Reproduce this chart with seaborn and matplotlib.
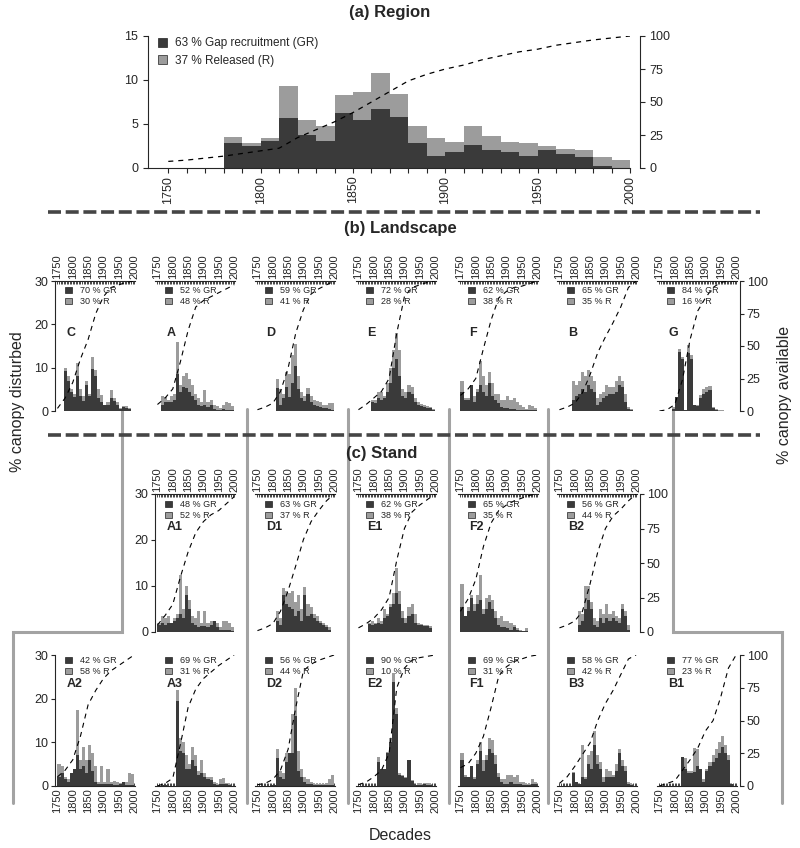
import matplotlib.pyplot as plt
import numpy as np
import pandas as pd
import seaborn as sns
from matplotlib.patches import Patch

sns.set_style('ticks')
plt.rcParams['font.family'] = ['Liberation Sans', 'DejaVu Sans']

DARK = '#3a3a3a'
LIGHT = '#9c9c9c'

# decade bins 1750s ... 1990s
decades = np.arange(1750, 2000, 10)
line_years = np.arange(1750, 2001, 25)
region_line_years = np.arange(1750, 2001, 10)

# ---- (a) Region ----
region_tot = [0, 0, 0, 3.5, 2.8, 3.4, 9.3, 5.5, 4.8, 8.3, 8.6, 10.8, 8.4, 4.8, 3.4, 2.9, 4.8, 3.6, 3.0, 2.8, 2.5, 2.2, 2.1, 1.3, 0.9]
region_gr = [0, 0, 0, 2.8, 2.5, 3.1, 5.7, 3.7, 3.1, 6.3, 5.5, 6.7, 5.8, 2.8, 1.4, 1.8, 2.6, 2.1, 1.8, 1.4, 2.1, 1.6, 1.2, 0.2, 0]
region_line = [5, 6, 7.5, 9, 11, 13, 15, 23, 29, 35, 42, 50, 58, 66, 71, 75, 78, 82, 85, 88, 90, 93, 95, 97, 98.5, 100]

# ---- (b) Landscape / (c) Stand : total disturbed (GR + R) per decade ----
tot = {
    'C':  [0, 0, 10, 8, 5, 4, 11, 5, 3.5, 7, 4, 12.5, 9.5, 5, 3.8, 1.5, 2, 4.8, 3, 2, 0.6, 1.2, 1.1, 0.8, 0],
    'A':  [0, 3.5, 3.2, 2.5, 3.5, 4, 16, 6, 8, 8.7, 7.5, 6, 4, 3, 2, 4.8, 2, 2.5, 1.5, 1.2, 0.8, 1.5, 2, 1.8, 1.2],
    'D':  [0, 0, 0, 0, 0, 0, 7.5, 5, 4, 9, 8.5, 13, 15.5, 8, 4.5, 3.5, 5.2, 3.5, 2.5, 2.2, 2, 1.5, 1.5, 1.8, 1.8],
    'E':  [0, 0, 0, 0, 2.5, 2.5, 4.5, 4.5, 3.5, 6.5, 10, 14, 18, 14, 5, 4.5, 6, 5.5, 3, 2, 1.6, 1.3, 1.2, 1, 0.5],
    'F':  [7, 3, 3, 6, 3.5, 5, 11.5, 8, 6, 9, 6.5, 4, 4, 2.5, 2.5, 3.5, 2.5, 3, 2, 1.5, 1, 0.5, 1.5, 1.2, 0.8],
    'B':  [0, 0, 0, 0, 7, 6, 7, 9, 8, 9.5, 8, 7, 3, 4, 4.5, 6, 5.5, 5.5, 7, 8, 7, 4, 1, 0.5, 0],
    'G':  [0, 0, 0, 0, 1, 3.3, 14.2, 12.5, 0.3, 15.2, 13, 1.5, 1.4, 3.7, 5, 5.6, 5.8, 1, 0.5, 0.2, 0.2, 0.1, 0, 0, 0],
    'A1': [2, 3.5, 3, 3.5, 2, 3, 4, 12.5, 5, 10, 7, 3.5, 3, 4.5, 2, 4.5, 2, 2.5, 2.5, 2, 1, 2.5, 2.5, 2, 1],
    'D1': [0, 0, 0, 0, 0, 0, 4.5, 3, 9.5, 9, 8.5, 9, 6.5, 8, 5, 9.7, 6, 5.5, 4, 3.5, 2.5, 2, 1.5, 1, 0],
    'E1': [0, 0, 0, 2, 2.5, 2, 3, 2.5, 5, 4, 6, 8.5, 14, 9, 4.5, 3, 5.5, 6, 4, 2, 1.8, 1.6, 1.5, 1.2, 0],
    'F2': [10.5, 3.5, 5.5, 8, 6, 8, 12.5, 5, 7.5, 8, 7, 4.5, 3, 3.5, 2.5, 2.5, 2, 1.5, 0.8, 0.5, 0.3, 0.8, 0, 0, 0],
    'B2': [0, 0, 0, 0, 0, 0, 4.5, 4, 10, 10, 6.5, 3, 2.5, 5, 4, 6, 4, 4.5, 3.5, 3, 6, 4.5, 1.5, 0, 0],
    'A2': [5, 4.5, 2, 1.5, 3, 4, 17.5, 6, 9, 6, 9.5, 7.5, 4.5, 1, 4.5, 1, 4, 1, 1.2, 1, 0.8, 1, 1, 3, 2.8],
    'A3': [0, 0.3, 0.3, 0, 0, 0, 22, 11, 10, 7, 5, 9, 7, 3.5, 6, 3, 2, 2, 1, 0.5, 1.5, 1.8, 0.8, 0.5, 0],
    'D2': [0, 0, 0, 0, 0.3, 0.3, 8.5, 3.5, 3, 7.5, 7.5, 16.5, 22.5, 8, 4, 2, 1.5, 1, 0.5, 0.5, 0.5, 0.5, 0.8, 1.5, 2.5],
    'E2': [0, 0, 0, 0, 0, 0, 6.6, 4, 4, 7.9, 11, 25.8, 17.8, 2.9, 2.5, 2, 6, 1.4, 0.3, 0.8, 0.5, 0.8, 0.8, 0.5, 0],
    'F1': [7.5, 2.5, 2, 4.5, 2, 6, 10, 6, 7, 11, 10.5, 7, 3, 1.5, 1.5, 2.5, 2.5, 2, 2.5, 1, 1, 0.5, 0.5, 1.5, 1],
    'B3': [0, 0, 0, 0, 3.3, 1, 0.5, 9.5, 2, 7, 8, 12.5, 7, 5.5, 2, 4, 3.5, 2.5, 5, 8.5, 6, 4.5, 1, 0.5, 0],
    'B1': [0, 0, 0, 0, 0, 0, 0, 6.6, 6.5, 3.5, 3.5, 8.8, 8.5, 4, 1.5, 4, 5.5, 7, 8.5, 10, 11.5, 9.5, 7, 0.5, 0],
}

# gap recruitment part per decade
gr = {
    'C':  [0, 0, 9.3, 7, 4.5, 3.3, 8, 3.5, 2.3, 6, 3.5, 9.8, 8, 3, 2, 1.3, 1.4, 3, 2.3, 1.5, 0.4, 1, 0.7, 0.5, 0],
    'A':  [0, 1.5, 2, 2, 2, 2.5, 8.5, 4.5, 5.5, 5.3, 4.5, 3.5, 2.5, 1.5, 1.2, 1.3, 1, 1.5, 0.5, 0.3, 0.2, 0.5, 0.3, 0.3, 0.2],
    'D':  [0, 0, 0, 0, 0, 0, 5.3, 1.5, 3, 5.5, 3.3, 6.5, 10.5, 5, 3, 2.3, 4, 2, 1.5, 1.2, 1, 0.7, 0.6, 0.4, 0.3],
    'E':  [0, 0, 0, 0, 2, 1.8, 3, 2.5, 3, 4.5, 6.5, 10, 12, 8, 3.5, 3, 4.5, 4, 2, 1.5, 1.2, 1, 0.8, 0.6, 0.3],
    'F':  [4.5, 2.5, 2.5, 6, 2, 4.5, 6, 4.5, 3.5, 6.5, 3.5, 2.5, 1.8, 1, 0.8, 0.8, 0.5, 0.5, 0.3, 0.3, 0.3, 0.2, 0.3, 0.3, 0.2],
    'B':  [0, 0, 0, 0, 2.5, 3.5, 4, 5, 4.5, 6, 5, 4.5, 1.5, 2, 3, 3.5, 4, 4, 4.5, 6, 5.5, 2, 0.5, 0.3, 0],
    'G':  [0, 0, 0, 0, 0.5, 3.3, 13.7, 12, 0.3, 13.5, 12, 1.3, 1.2, 3, 4, 4.5, 4.8, 0.8, 0.3, 0.1, 0.1, 0, 0, 0, 0],
    'A1': [1.5, 2, 1.5, 2, 2, 2.5, 3, 4, 3, 8, 5, 2, 1.5, 1, 1.2, 1.2, 1, 1.5, 2.5, 1, 0.5, 0.5, 0.5, 0.5, 0.3],
    'D1': [0, 0, 0, 0, 0, 0, 2.5, 1.5, 8, 6, 5.5, 5, 3.5, 4.5, 2.5, 8, 3.5, 4, 3, 2.5, 2, 1.5, 1, 0.5, 0],
    'E1': [0, 0, 0, 1.8, 1.5, 1.8, 2, 1.8, 3, 3.5, 5.5, 6, 8.5, 6, 3, 2, 3.5, 4, 2, 1.5, 1.5, 1.3, 1.2, 0.8, 0],
    'F2': [5.5, 3.5, 4.5, 7.5, 4.5, 6, 7, 4, 5, 6.5, 5, 3, 1.5, 1, 1, 0.8, 0.5, 1, 0.5, 0.3, 0.2, 0.3, 0, 0, 0],
    'B2': [0, 0, 0, 0, 0, 0, 1.5, 2.5, 5, 7, 5, 1.5, 1, 3, 2, 3, 2.5, 3, 2.5, 2, 5, 3.5, 0.5, 0, 0],
    'A2': [2, 3, 1.5, 1, 3, 4, 7, 4, 4.5, 3, 6, 3.5, 1, 0.5, 0.5, 0.5, 0.5, 0.5, 0.3, 0.3, 0.5, 1, 0.3, 0.3, 0.3],
    'A3': [0, 0.3, 0.3, 0, 0, 0, 19.5, 8, 7.5, 4, 4, 6, 4.5, 2.5, 3, 2, 1.5, 1.3, 0.5, 0.3, 0.5, 0.5, 0.5, 0.3, 0],
    'D2': [0, 0, 0, 0, 0.3, 0.3, 6.5, 2, 1.5, 5.5, 7.5, 7.5, 16, 3.5, 2, 1, 0.5, 0.5, 0.3, 0.3, 0.3, 0.3, 0.3, 0.3, 0.3],
    'E2': [0, 0, 0, 0, 0, 0, 5.6, 4, 4, 7.5, 10, 23.9, 16.6, 2.5, 2.2, 1.8, 6, 1.2, 0.3, 0.3, 0.3, 0.5, 0.3, 0.3, 0],
    'F1': [6, 2, 2, 4.5, 1.5, 5, 8, 3.5, 6, 8.5, 7.5, 5, 2, 1, 0.5, 0.5, 1, 0.5, 0.5, 0.5, 0.3, 0.3, 0.3, 0.5, 0.5],
    'B3': [0, 0, 0, 0, 3, 1, 0.5, 2, 1.5, 5, 4, 9.5, 5, 4, 1, 2, 2, 2, 3.5, 7.5, 4.5, 3.5, 0.5, 0.3, 0],
    'B1': [0, 0, 0, 0, 0, 0, 0, 6.6, 4, 3, 3, 3.3, 4.5, 4, 1, 3.5, 4.5, 5.5, 6.5, 7.5, 9, 7.5, 6, 0.5, 0],
}

# % canopy available (dashed line), every 25 years 1750-2000
avail = {
    'C':  [2, 10, 22, 40, 55, 75, 88, 95, 97, 99, 100],
    'A':  [5, 10, 17, 38, 62, 80, 85, 88, 91, 94, 97],
    'D':  [1, 3, 6, 15, 33, 60, 78, 90, 94, 97, 100],
    'E':  [1, 5, 10, 15, 25, 60, 88, 95, 97, 99, 100],
    'F':  [12, 17, 25, 48, 70, 87, 92, 95, 96, 98, 100],
    'B':  [1, 3, 6, 14, 28, 45, 57, 68, 80, 95, 100],
    'G':  [0, 1, 5, 24, 55, 77, 87, 95, 99, 100, 100],
    'A1': [5, 12, 20, 40, 58, 72, 80, 85, 88, 93, 98],
    'D1': [1, 3, 6, 15, 30, 48, 67, 80, 88, 95, 100],
    'E1': [3, 6, 10, 16, 25, 52, 75, 87, 92, 96, 100],
    'F2': [15, 24, 38, 62, 79, 88, 92, 95, 97, 99, 100],
    'B2': [3, 5, 8, 15, 35, 58, 75, 84, 89, 95, 100],
    'A2': [7, 12, 20, 38, 62, 73, 82, 88, 92, 96, 100],
    'A3': [0, 2, 6, 32, 60, 74, 82, 87, 92, 96, 100],
    'D2': [1, 2, 5, 12, 28, 60, 88, 93, 96, 98, 100],
    'E2': [1, 3, 7, 12, 25, 75, 90, 96, 98, 99, 100],
    'F1': [14, 17, 25, 38, 60, 84, 91, 95, 97, 99, 100],
    'B3': [2, 7, 15, 24, 33, 50, 63, 73, 85, 97, 100],
    'B1': [0, 2, 4, 12, 20, 29, 42, 50, 68, 90, 100],
}

# % gap recruitment / % released
pct_gr = {'C': 70, 'A': 52, 'D': 59, 'E': 72, 'F': 62, 'B': 65, 'G': 84,
          'A1': 48, 'D1': 63, 'E1': 62, 'F2': 65, 'B2': 56,
          'A2': 42, 'A3': 69, 'D2': 56, 'E2': 90, 'F1': 69, 'B3': 58, 'B1': 77}
pct_r = {'C': 30, 'A': 48, 'D': 41, 'E': 28, 'F': 38, 'B': 35, 'G': 16,
         'A1': 52, 'D1': 37, 'E1': 38, 'F2': 35, 'B2': 44,
         'A2': 58, 'A3': 31, 'D2': 44, 'E2': 10, 'F1': 31, 'B3': 42, 'B1': 23}

landscape_keys = ['C', 'A', 'D', 'E', 'F', 'B', 'G']
stand1_keys = ['A1', 'D1', 'E1', 'F2', 'B2']
stand2_keys = ['A2', 'A3', 'D2', 'E2', 'F1', 'B3', 'B1']

W, H = 800, 848
fig = plt.figure(figsize=(W / 100, H / 100), dpi=100)


def px_axes(left, top, width, height, **kw):
    return fig.add_axes([left / W, 1 - (top + height) / H, width / W, height / H], **kw)


def bars(ax, total, dark):
    df = pd.DataFrame({'decade': decades + 5, 'total': total, 'gr': dark})
    sns.histplot(data=df, x='decade', weights='total', binwidth=10, binrange=(1750, 2000),
                 color=LIGHT, alpha=1, linewidth=0, ax=ax)
    sns.histplot(data=df, x='decade', weights='gr', binwidth=10, binrange=(1750, 2000),
                 color=DARK, alpha=1, linewidth=0, ax=ax)
    ax.set_ylabel('')
    ax.set_xlabel('')


def panel(key, left, top, height, xaxis='top', yleft=False, yright=False,
          leg_y=0.95, lab_y=0.62):
    ax = px_axes(left, top, 80, height)
    ax.patch.set_visible(False)
    bars(ax, tot[key], gr[key])
    ax.set_xlim(1742, 2003)
    ax.set_ylim(0, 30)

    ax2 = ax.twinx()
    sns.lineplot(x=line_years, y=avail[key], ax=ax2, color='black', lw=0.8)
    ax2.lines[0].set_linestyle((0, (4.5, 4)))
    ax2.set_ylim(0, 100)
    ax2.set_ylabel('')

    for s in ['left', 'right', 'top', 'bottom']:
        ax.spines[s].set_visible(False)
        ax2.spines[s].set_visible(False)
    ax.spines[xaxis].set_visible(True)
    ax.spines[xaxis].set_linewidth(0.8)

    ax.set_xticks(np.arange(1750, 2001, 50))
    ax.set_xticks(np.arange(1750, 2001, 5), minor=True)
    if xaxis == 'top':
        ax.xaxis.tick_top()
    ax.tick_params(axis='x', which='both', direction='in', length=2.5, width=0.6,
                   labelsize=8, rotation=90, pad=1.5)

    if yleft:
        ax.spines['left'].set_visible(True)
        ax.spines['left'].set_linewidth(0.8)
        ax.set_yticks([0, 10, 20, 30])
        ax.tick_params(axis='y', direction='out', length=3, width=0.8, labelsize=9, pad=2)
    else:
        ax.set_yticks([])
    if yright:
        ax2.spines['right'].set_visible(True)
        ax2.spines['right'].set_linewidth(0.8)
        ax2.spines['right'].set_position(('outward', 2))
        ax2.set_yticks([0, 25, 50, 75, 100])
        ax2.tick_params(axis='y', direction='out', length=3, width=0.8, labelsize=9, pad=2)
    else:
        ax2.set_yticks([])

    handles = [Patch(facecolor=DARK, edgecolor='#222222', lw=0.5),
               Patch(facecolor=LIGHT, edgecolor='#222222', lw=0.5)]
    ax2.legend(handles, [f'{pct_gr[key]} % GR', f'{pct_r[key]} % R'],
               loc='upper left', bbox_to_anchor=(0.13, leg_y), frameon=False,
               fontsize=6.5, handlelength=0.7, handleheight=0.7,
               handletextpad=0.9, labelspacing=0.2, borderpad=0, borderaxespad=0)
    ax.text(0.14, lab_y, key, transform=ax.transAxes, fontsize=9,
            fontweight='bold', ha='left', va='center')


# ---------- (a) Region ----------
axr = px_axes(148, 36, 482, 132)
axr.patch.set_visible(False)
bars(axr, region_tot, region_gr)
axr.set_xlim(1739, 2000)
axr.set_ylim(0, 15)
axr.set_yticks([0, 5, 10, 15])
axr.set_xticks(np.arange(1750, 2001, 50))
axr.set_xticks(np.arange(1750, 2001, 10), minor=True)
axr.tick_params(axis='x', which='both', direction='out', length=3.5, width=0.8,
                labelsize=9, rotation=90, pad=2)
axr.tick_params(axis='y', direction='out', length=3.5, width=0.8, labelsize=9)
axr.spines['top'].set_visible(False)
axr.spines['right'].set_visible(False)

axr2 = axr.twinx()
sns.lineplot(x=region_line_years, y=region_line, ax=axr2, color='black', lw=0.9)
axr2.lines[0].set_linestyle((0, (4, 4)))
axr2.set_ylim(0, 100)
axr2.set_yticks([0, 25, 50, 75, 100])
axr2.set_ylabel('')
axr2.tick_params(axis='y', direction='out', length=3.5, width=0.8, labelsize=9)
for s in ['left', 'top', 'bottom']:
    axr2.spines[s].set_visible(False)
axr2.spines['right'].set_position(('outward', 7))
axr2.legend([Patch(facecolor=DARK, edgecolor='#222222', lw=0.5),
             Patch(facecolor=LIGHT, edgecolor='#222222', lw=0.5)],
            ['63 % Gap recruitment (GR)', '37 % Released (R)'],
            loc='upper left', bbox_to_anchor=(0.02, 0.99), frameon=False,
            fontsize=8.5, handlelength=0.8, handleheight=0.8,
            handletextpad=0.7, labelspacing=0.45, borderpad=0, borderaxespad=0)

# ---------- panels ----------
cols = [55, 155, 255, 356, 458, 557, 657]

for i, k in enumerate(landscape_keys):
    panel(k, cols[i], 281, 130, xaxis='top', yleft=(i == 0), yright=(i == 6),
          leg_y=0.96, lab_y=0.6)

for i, k in enumerate(stand1_keys):
    panel(k, cols[i + 1], 494, 138, xaxis='top', yleft=(i == 0), yright=(i == 4),
          leg_y=0.955, lab_y=0.76)

for i, k in enumerate(stand2_keys):
    panel(k, cols[i], 655, 131, xaxis='bottom', yleft=(i == 0), yright=(i == 6),
          leg_y=0.99, lab_y=0.78)

# ---------- separators and connectors ----------
ov = fig.add_axes([0, 0, 1, 1], zorder=-1)
ov.set_xlim(0, W)
ov.set_ylim(H, 0)
ov.axis('off')

GRAY = '#a3a3a3'
ov.plot([122, 122, 13, 13], [409, 632, 632, 803], color=GRAY, lw=2.2, solid_joinstyle='miter')
ov.plot([673, 673, 782, 782], [409, 632, 632, 803], color=GRAY, lw=2.2, solid_joinstyle='miter')
for x in [247, 348, 449, 548]:
    ov.plot([x, x], [409, 803], color=GRAY, lw=2.2)

for y in [212, 435]:
    ov.plot([48, 760], [y, y], color='#454545', lw=2.6, ls=(0, (3.6, 1.3)))

# ---------- titles ----------
fig.text(390 / W, 1 - 12 / H, '(a) Region', ha='center', va='center', fontsize=12, fontweight='bold')
fig.text(400 / W, 1 - 228 / H, '(b) Landscape', ha='center', va='center', fontsize=12, fontweight='bold')
fig.text(382 / W, 1 - 454 / H, '(c) Stand', ha='center', va='center', fontsize=12, fontweight='bold')
fig.text(18 / W, 1 - 402 / H, '% canopy disturbed', ha='center', va='center', rotation=90, fontsize=11.5)
fig.text(785 / W, 1 - 395 / H, '% canopy available', ha='center', va='center', rotation=90, fontsize=11.5)
fig.text(400 / W, 1 - 835 / H, 'Decades', ha='center', va='center', fontsize=11.5)

fig.savefig('out.png', dpi=100)
